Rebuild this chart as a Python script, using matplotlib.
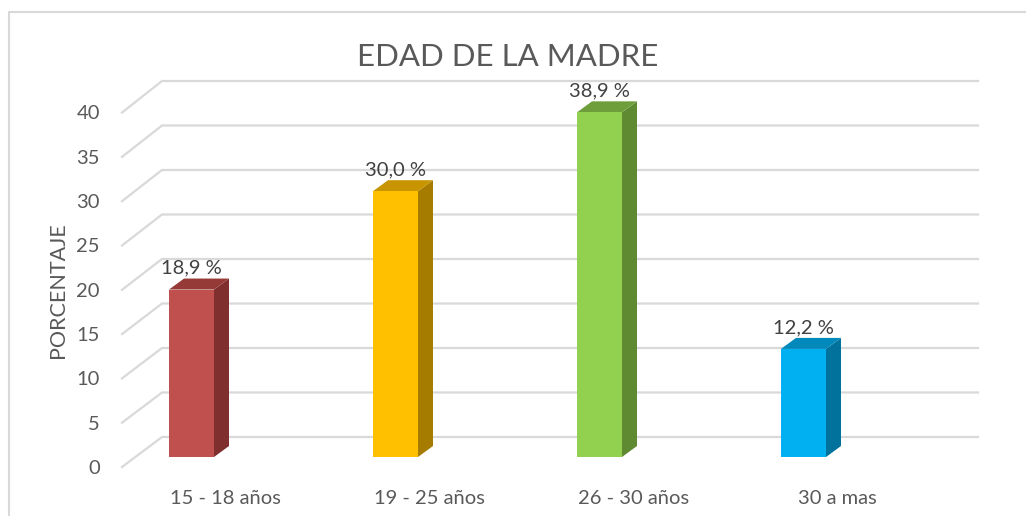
import matplotlib.pyplot as plt
from matplotlib.patches import Polygon, Rectangle
from matplotlib.lines import Line2D

categorias = ['15 - 18 años', '19 - 25 años', '26 - 30 años', '30 a mas']
porcentajes = [18.9, 30.0, 38.9, 12.2]
etiquetas = ['18,9 %', '30,0 %', '38,9 %', '12,2 %']
ticks_y = [0, 5, 10, 15, 20, 25, 30, 35, 40]

frente = ['#C0504D', '#FFC000', '#92D050', '#00B0F0']
lateral = ['#7F2F2D', '#A67C00', '#5F8A32', '#00729C']
techo = ['#953A37', '#C89400', '#6E9E3C', '#0089BA']

W, H = 1026, 516
plt.rcParams['font.family'] = ['Lato', 'DejaVu Sans']
gris = '#595959'

fig = plt.figure(figsize=(W / 100, H / 100), dpi=100)
ax = fig.add_axes([0, 0, 1, 1])

# escala: 1 categoria = 204 px, 1 % = 8.86 px ; origen en la base frontal de la 1a barra
XPX, YPX = 204.0, 8.86
X0, Y0 = 191.5, 457.0
ax.set_xlim(-X0 / XPX, (W - X0) / XPX)
ax.set_ylim(-(H - Y0) / YPX, Y0 / YPX)
ax.axis('off')

def px(dx, dy):
    # desplazamiento en pixeles -> unidades de datos (dy positivo hacia arriba)
    return dx / XPX, dy / YPX

# marco exterior
ax.add_line(Line2D([(9 - X0) / XPX, (9 - X0) / XPX, (W - X0) / XPX],
                   [-(H - Y0) / YPX, (Y0 - 12) / YPX, (Y0 - 12) / YPX],
                   color='#D9D9D9', lw=1.5, clip_on=False))

# pared de fondo: lineas de cuadricula con diagonal del piso
fx0 = (122 - X0) / XPX
bx0 = (162 - X0) / XPX
bx1 = (978 - X0) / XPX
for v in ticks_y:
    yf = v - 10 / YPX
    yb = v * 8.9 / YPX + 20 / YPX
    ax.plot([fx0, bx0, bx1], [yf, yb, yb], color='#D9D9D9', lw=1.6,
            solid_joinstyle='miter', zorder=1)
    ax.text((100 - X0) / XPX, yf - 0.15, str(v), ha='right', va='center',
            fontsize=14.5, color=gris)

# barras en 3D
ancho = 45 / XPX
ddx, ddy = px(15, 11)
for i, (v, lab) in enumerate(zip(porcentajes, etiquetas)):
    x0 = i - ancho / 2
    x1 = i + ancho / 2
    ax.add_patch(Polygon([(x1, 0), (x1 + ddx, ddy), (x1 + ddx, v + ddy), (x1, v)],
                         closed=True, facecolor=lateral[i], edgecolor='none', zorder=3))
    ax.add_patch(Polygon([(x0, v), (x1, v), (x1 + ddx, v + ddy), (x0 + ddx, v + ddy)],
                         closed=True, facecolor=techo[i], edgecolor='none', zorder=3))
    ax.add_patch(Rectangle((x0, 0), ancho, v, facecolor=frente[i],
                           edgecolor='none', zorder=4))
    ax.text(i, v + ddy + 5 / YPX, lab, ha='center', va='baseline',
            fontsize=14.5, color='#404040', zorder=5)
    ax.text(i + 34 / XPX, (Y0 - 499) / YPX, categorias[i], ha='center',
            va='center', fontsize=14.5, color=gris)

ax.text((58 - X0) / XPX, (Y0 - 290) / YPX, 'PORCENTAJE', rotation=90,
        ha='center', va='center', fontsize=15.5, color=gris)

fig.text(508 / W, 1 - 57 / H, 'EDAD DE LA MADRE', ha='center', va='center',
         fontsize=22.5, color=gris)

fig.savefig('out.png', dpi=100, facecolor='white')
